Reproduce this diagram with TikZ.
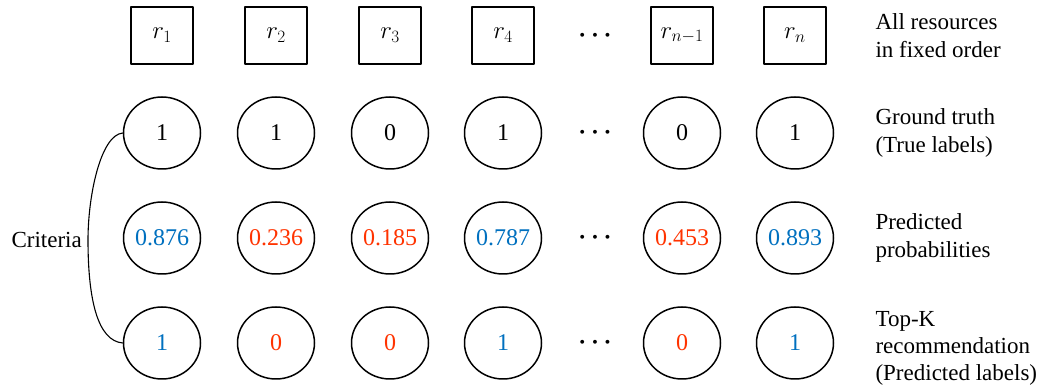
\documentclass[tikz,border=0pt]{standalone}
\usepackage{fontspec}
\setmainfont{Liberation Serif}
\usetikzlibrary{shapes.geometric}
\definecolor{qqttcc}{rgb}{0.,0.44,0.75}
\definecolor{ffzzqq}{rgb}{1.,0.2,0.}

\begin{document}
\begin{tikzpicture}[line cap=round,line join=round,x=1pt,y=1pt,
  res/.style={draw,line width=1.5pt,minimum width=62pt,minimum height=57pt,inner sep=0pt,font=\fontsize{27}{32}\selectfont},
  val/.style={draw,ellipse,line width=1.5pt,minimum width=77pt,minimum height=72pt,inner sep=0pt,font=\fontsize{24}{28}\selectfont},
  dots/.style={font=\fontsize{30}{34}\selectfont\boldmath},
  txt/.style={anchor=west,align=left,font=\fontsize{23}{28}\selectfont}]
\useasboundingbox (0,0) rectangle (1044,387);
% resources
\foreach \x/\n/\s in {162/1/1,276/2/2,390/3/3,503/4/4,682/5/n-1,795/6/n}
  \node[res] (box\n) at (\x,351.5) {$r_{\s}$};
% ground truth
\foreach \x/\n/\v in {162/1/1,276/2/1,390/3/0,503/4/1,682/5/0,795/6/1}
  \node[val] (gt\n) at (\x,254) {\v};
% predicted probabilities
\foreach \x/\n/\v/\c in {162/1/0.876/qqttcc,276/2/0.236/ffzzqq,390/3/0.185/ffzzqq,503/4/0.787/qqttcc,682/5/0.453/ffzzqq,795/6/0.893/qqttcc}
  \node[val,text=\c] (pr\n) at (\x,149) {\v};
% top-k
\foreach \x/\n/\v/\c in {162/1/1/qqttcc,276/2/0/ffzzqq,390/3/0/ffzzqq,503/4/1/qqttcc,682/5/0/ffzzqq,795/6/1/qqttcc}
  \node[val,text=\c] (tk\n) at (\x,44) {\v};
\foreach \y/\n in {351.5/1,254/2,149/3,44/4}
  \node[dots] (dots\n) at (595,\y) {$\cdots$};
% labels
\node[txt] (lres) at (872,351.5) {All resources\\in fixed order};
\node[txt] (lgt) at (872,254) {Ground truth\\(True labels)};
\node[txt] (lpr) at (872,149) {Predicted\\probabilities};
\node[txt,font=\fontsize{23}{27}\selectfont] (ltk) at (872,39) {Top-K\\recommendation\\(Predicted labels)};
\node[anchor=east,font=\fontsize{23}{28}\selectfont,inner sep=0pt] (crit) at (82,147) {Criteria};
\draw [line width=1.1pt] (gt1.west) .. controls +(-22,-2) and +(0,45) .. ([xshift=6pt]crit.east) .. controls +(0,-60) and +(-25,2) .. (tk1.west);
\end{tikzpicture}
\end{document}
